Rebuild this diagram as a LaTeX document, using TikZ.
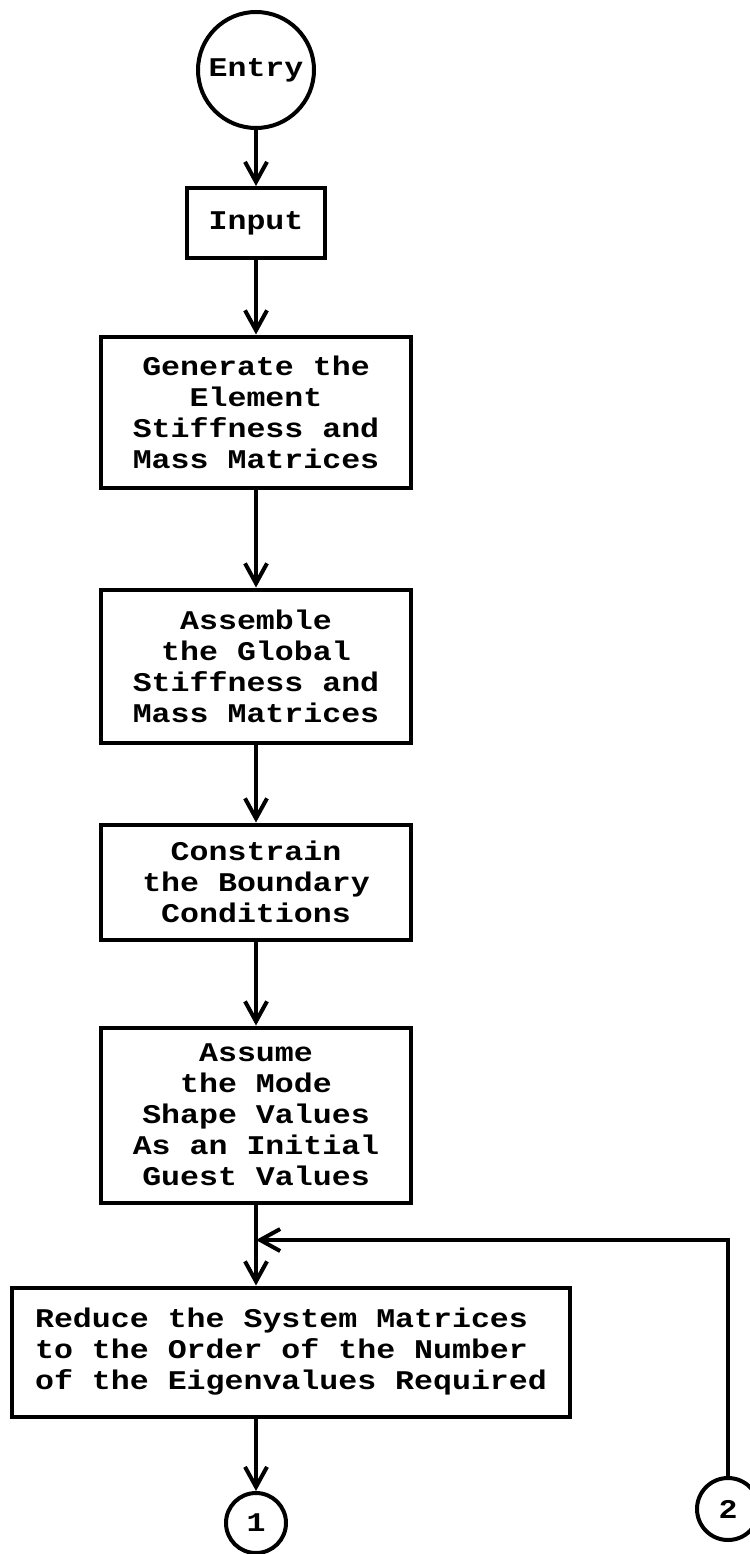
\documentclass[tikz,border=0pt]{standalone}
\usepackage{fontspec}
\setmonofont[FakeStretch=1.17]{Liberation Mono}
\usetikzlibrary{arrows.meta}

\begin{document}
\begin{tikzpicture}[x=1pt,y=-1pt,line width=4pt,
   >={Straight Barb[length=20pt,width=22pt]},
   font=\ttfamily\bfseries\fontsize{27}{31}\selectfont]
   \tikzset{
     stepbox/.style={draw,rectangle,align=center,inner sep=0pt,minimum width=#1},
     conn/.style={draw,circle,inner sep=0pt}
   }
% Page size as in the scan
   \useasboundingbox (0,0) rectangle (749,1554);
% Main column
   \node [conn,minimum size=116pt] (entry) at (256,70) {Entry};
   \node [stepbox=138pt,minimum height=70pt] (input) at (256,223) {Input};
   \node [stepbox=310pt,minimum height=151pt] (generate) at (256,412)
        {Generate the\\Element\\Stiffness and\\Mass Matrices};
   \node [stepbox=310pt,minimum height=153pt] (assemble) at (256,666)
        {Assemble\\the Global\\Stiffness and\\Mass Matrices};
   \node [stepbox=310pt,minimum height=115pt] (constrain) at (256,882)
        {Constrain\\the Boundary\\Conditions};
   \node [stepbox=310pt,minimum height=175pt] (assume) at (256,1115)
        {Assume\\the Mode\\Shape Values\\As an Initial\\Guest Values};
   \coordinate (junction) at (256,1240);
   \node [stepbox=558pt,minimum height=129pt,align=left] (reduce) at (291,1352)
        {Reduce the System Matrices\\to the Order of the Number\\of the Eigenvalues Required};
% Connectors
   \node [conn,minimum size=60pt] (one) at (256,1523) {1};
   \node [conn,minimum size=62pt] (two) at (728,1509) {2};
% Arrows
   \draw [->] (entry) -- (input);
   \draw [->] (input) -- (generate);
   \draw [->] (generate) -- (assemble);
   \draw [->] (assemble) -- (constrain);
   \draw [->] (constrain) -- (assume);
   \draw (assume) -- (junction);
   \draw [->] (junction) -- (junction |- reduce.north);
   \draw [->] (one |- reduce.south) -- (one);
% Return loop
   \draw [->] (two) |- (junction);
\end{tikzpicture}
\end{document}
